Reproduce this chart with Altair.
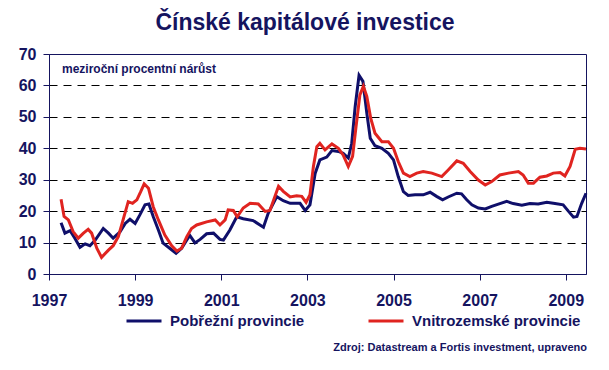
import altair as alt
import pandas as pd

NAVY = "#15145f"
BLUE = "#0f0f6a"
RED = "#e02420"
FONT = "Liberation Sans"

series_names = ["Pobřežní provincie", "Vnitrozemské provincie"]

coastal_year = [1997.28, 1997.37, 1997.49, 1997.60, 1997.72, 1997.84, 1997.95, 1998.07, 1998.26, 1998.38,
                1998.49, 1998.65, 1998.77, 1998.88, 1999.00, 1999.11, 1999.23, 1999.32, 1999.42, 1999.54,
                1999.65, 1999.81, 1999.95, 2000.08, 2000.20, 2000.27, 2000.39, 2000.51, 2000.66, 2000.82,
                2000.97, 2001.05, 2001.20, 2001.36, 2001.51, 2001.74, 2001.98, 2002.09, 2002.29, 2002.44,
                2002.60, 2002.83, 2002.95, 2003.06, 2003.18, 2003.29, 2003.45, 2003.57, 2003.72, 2003.83,
                2003.95, 2004.03, 2004.11, 2004.20, 2004.29, 2004.38, 2004.46, 2004.57, 2004.73, 2004.88,
                2005.00, 2005.11, 2005.23, 2005.34, 2005.50, 2005.69, 2005.85, 2006.00, 2006.14, 2006.27,
                2006.47, 2006.58, 2006.70, 2006.82, 2006.97, 2007.13, 2007.28, 2007.47, 2007.63, 2007.78,
                2007.98, 2008.17, 2008.36, 2008.56, 2008.75, 2008.94, 2009.06, 2009.18, 2009.26, 2009.37,
                2009.47]
coastal_value = [16.3, 13.0, 13.8, 11.4, 8.5, 9.6, 9.0, 10.7, 14.5, 13.0,
                 11.4, 13.4, 16.1, 17.4, 16.1, 18.8, 22.0, 22.3, 18.3, 14.0,
                 9.8, 8.1, 6.6, 8.2, 10.8, 12.3, 9.9, 11.0, 12.8, 13.0,
                 11.0, 10.8, 14.0, 18.2, 17.6, 17.0, 14.9, 19.3, 24.6, 23.3,
                 22.5, 22.5, 20.2, 22.0, 32.0, 36.3, 37.2, 39.3, 39.0, 38.4,
                 36.9, 41.6, 53.3, 63.2, 61.3, 51.2, 43.2, 40.8, 40.0, 38.4,
                 36.3, 31.0, 26.2, 25.0, 25.2, 25.2, 26.0, 24.7, 23.6, 24.5,
                 25.7, 25.5, 23.6, 22.0, 21.0, 20.7, 21.5, 22.4, 23.1, 22.4,
                 21.9, 22.4, 22.3, 22.8, 22.4, 22.0, 20.0, 18.1, 18.3, 22.5,
                 25.7]

inland_year = [1997.28, 1997.35, 1997.45, 1997.56, 1997.68, 1997.80, 1997.91, 1997.99, 1998.11, 1998.22,
               1998.38, 1998.49, 1998.61, 1998.73, 1998.84, 1998.94, 1999.04, 1999.13, 1999.21, 1999.31,
               1999.42, 1999.54, 1999.69, 1999.85, 1999.97, 2000.08, 2000.20, 2000.31, 2000.43, 2000.66,
               2000.86, 2000.97, 2001.09, 2001.16, 2001.28, 2001.37, 2001.51, 2001.67, 2001.86, 2002.02,
               2002.13, 2002.33, 2002.44, 2002.60, 2002.75, 2002.87, 2002.97, 2003.06, 2003.14, 2003.22,
               2003.29, 2003.41, 2003.57, 2003.72, 2003.83, 2003.95, 2004.05, 2004.13, 2004.22, 2004.30,
               2004.38, 2004.47, 2004.57, 2004.73, 2004.88, 2005.00, 2005.11, 2005.23, 2005.38, 2005.54,
               2005.69, 2005.89, 2006.12, 2006.27, 2006.47, 2006.62, 2006.78, 2006.97, 2007.13, 2007.28,
               2007.47, 2007.67, 2007.90, 2008.01, 2008.13, 2008.25, 2008.40, 2008.56, 2008.71, 2008.87,
               2008.98, 2009.10, 2009.22, 2009.33, 2009.47]
inland_value = [23.8, 18.3, 17.2, 13.5, 11.4, 13.0, 14.2, 13.0, 8.2, 5.3,
                7.6, 9.0, 11.9, 17.7, 23.0, 22.5, 23.6, 26.2, 28.7, 27.3,
                21.4, 17.2, 12.4, 9.0, 7.3, 8.2, 11.9, 14.5, 15.6, 16.6,
                17.2, 15.6, 17.2, 20.4, 20.2, 18.2, 21.0, 22.5, 22.3, 19.9,
                20.2, 27.9, 26.3, 24.5, 24.9, 24.7, 22.8, 25.2, 34.2, 40.5,
                41.6, 39.5, 41.4, 40.0, 37.9, 34.2, 37.4, 46.9, 57.0, 59.7,
                56.5, 49.6, 44.8, 42.1, 42.1, 40.0, 35.8, 32.1, 31.0, 32.1,
                32.6, 32.1, 31.0, 33.1, 36.0, 35.2, 32.6, 29.9, 28.3, 29.4,
                31.5, 32.1, 32.6, 31.5, 28.9, 28.9, 30.8, 31.2, 32.1, 32.3,
                31.2, 34.2, 39.7, 40.0, 39.8]

x_ticks = [1997, 1999, 2001, 2003, 2005, 2007, 2009]
y_ticks = [0, 10, 20, 30, 40, 50, 60, 70]

df = pd.concat([
    pd.DataFrame({"rok": coastal_year, "hodnota": coastal_value, "serie": series_names[0]}),
    pd.DataFrame({"rok": inland_year, "hodnota": inland_value, "serie": series_names[1]}),
], ignore_index=True)

W, H = 537, 220

lines = alt.Chart(df).mark_line(strokeWidth=3).encode(
    x=alt.X("rok:Q", scale=alt.Scale(domain=[1997, 2009.47], nice=False, zero=False),
            axis=alt.Axis(values=x_ticks, format="d", title=None, labelFlush=False,
                          labelOverlap=False, grid=False, tickSize=6, labelPadding=12,
                          labelFontSize=16, labelFont=FONT, labelFontWeight="bold",
                          labelColor=NAVY, domainColor=NAVY, tickColor=NAVY)),
    y=alt.Y("hodnota:Q", scale=alt.Scale(domain=[0, 70], nice=False),
            axis=alt.Axis(values=y_ticks, title=None, tickSize=6, labelPadding=7,
                          labelFontSize=16, labelFont=FONT, labelFontWeight="bold",
                          labelColor=NAVY, domainColor=NAVY, tickColor=NAVY,
                          grid=True, gridColor="#000000", gridDash=[8, 6], gridWidth=1,
                          gridOpacity={"condition": {"test": "datum.value == 0 || datum.value == 70",
                                                     "value": 0}, "value": 1})),
    color=alt.Color("serie:N", sort=series_names,
                    scale=alt.Scale(domain=series_names, range=[BLUE, RED]),
                    legend=alt.Legend(title=None, orient="none", legendX=76, legendY=248,
                                      direction="horizontal", columns=2, columnPadding=57,
                                      symbolType="stroke", symbolSize=1225, symbolStrokeWidth=3,
                                      labelFont=FONT, labelFontSize=15, labelFontWeight="bold",
                                      labelColor=NAVY, labelOffset=7, padding=0, labelLimit=300)),
    order=alt.Order("serie:N"),
)

title = alt.Chart(pd.DataFrame({"t": ["Čínské kapitálové investice"]})).mark_text(
    font=FONT, fontSize=23, fontWeight="bold", color=NAVY, align="center", baseline="alphabetic"
).encode(text="t:N", x=alt.value(256), y=alt.value(-24))

subtitle = alt.Chart(pd.DataFrame({"t": ["meziroční procentní nárůst"]})).mark_text(
    font=FONT, fontSize=12, fontWeight="bold", color=NAVY, align="left", baseline="alphabetic"
).encode(text="t:N", x=alt.value(13), y=alt.value(19))

source = alt.Chart(pd.DataFrame({"t": ["Zdroj: Datastream a Fortis investment, upraveno"]})).mark_text(
    font=FONT, fontSize=11, fontWeight="bold", color=NAVY, align="right", baseline="middle"
).encode(text="t:N", x=alt.value(538), y=alt.value(294))

chart = alt.layer(lines, title, subtitle, source).properties(
    width=W, height=H,
    autosize=alt.AutoSizeParams(type="none"),
    padding={"left": 41, "top": 46, "right": 15, "bottom": 100},
    background="white",
).configure_view(stroke=NAVY, strokeWidth=1)

chart.save("out.html", embed_options={"renderer": "svg", "actions": False})
